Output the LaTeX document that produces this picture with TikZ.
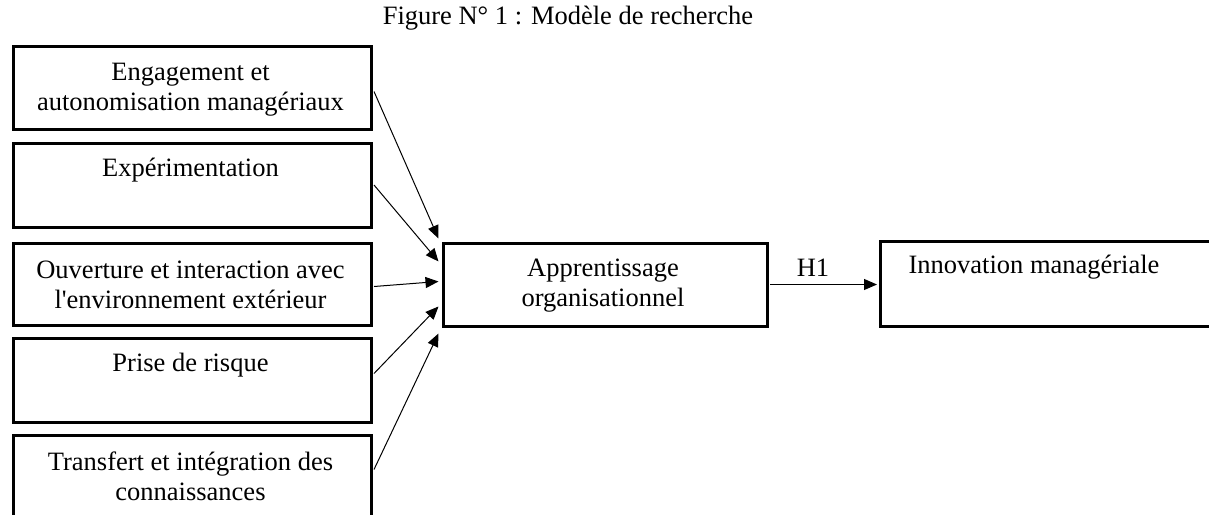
\documentclass[tikz,border=0pt]{standalone}
\usepackage{fontspec}
\setmainfont{Liberation Serif}[Ligatures=TeXOff]
\usetikzlibrary{arrows.meta,calc}
\begin{document}
\begin{tikzpicture}[x=1pt,y=1pt,
  box/.style={draw,line width=3pt,anchor=north west,inner sep=0pt},
  lbl/.style={font=\fontsize{26.5}{30}\selectfont,align=center,inner sep=0pt},
  conn/.style={line width=1pt,-{Triangle[length=13pt,width=11pt]}}]
\useasboundingbox (0,0) rectangle (1209,-514);
% boxes
\node[box,minimum width=358pt,minimum height=83pt] (b1) at (11.5,-44.5) {};
\node[box,minimum width=358pt,minimum height=84pt] (b2) at (11.5,-141.5) {};
\node[box,minimum width=358pt,minimum height=82pt] (b3) at (11.5,-241.5) {};
\node[box,minimum width=358pt,minimum height=84pt] (b4) at (11.5,-336.5) {};
\node[box,minimum width=358pt,minimum height=84pt] (b5) at (11.5,-433.5) {};
\node[box,minimum width=324pt,minimum height=83pt] (m) at (441.5,-241.5) {};
\node[box,minimum width=340pt,minimum height=85pt] (r) at (878.5,-239.5) {};
% texts
\node[lbl] (t0) at (568,-18) {Figure N° 1 : Modèle de recherche};
\node[lbl] (t1) at (190.5,-90) {Engagement et\\autonomisation managériaux};
\node[lbl] (t2) at (190.5,-170) {Expérimentation};
\node[lbl] (t3) at (190.5,-285) {Ouverture et interaction avec\\l'environnement extérieur};
\node[lbl] (t4) at (190.5,-365) {Prise de risque};
\node[lbl] (t5) at (190.5,-476) {Transfert et intégration des\\connaissances};
\node[lbl] (tm) at (603,-286) {Apprentissage\\organisationnel};
\node[lbl] (tr) at (1034,-267) {Innovation managériale};
\node[lbl] (h1) at (813,-268) {H1};
% connectors
\draw[conn] ($(b1.east)+(1.5,-4)$) -- ($(m.west)+(-3,46)$);
\draw[conn] ($(b2.east)+(1.5,0)$) -- ($(m.west)+(-3,23)$);
\draw[conn] ($(b3.east)+(1.5,-2.5)$) -- ($(m.west)+(-3,3)$);
\draw[conn] ($(b4.east)+(1.5,6.5)$) -- ($(m.west)+(-3,-22)$);
\draw[conn] ($(b5.east)+(1.5,7.5)$) -- ($(m.west)+(-3,-49)$);
\draw[conn] ($(m.east)+(1.5,0)$) -- ($(m.east -| r.west)+(-1.5,0)$);
\end{tikzpicture}
\end{document}
